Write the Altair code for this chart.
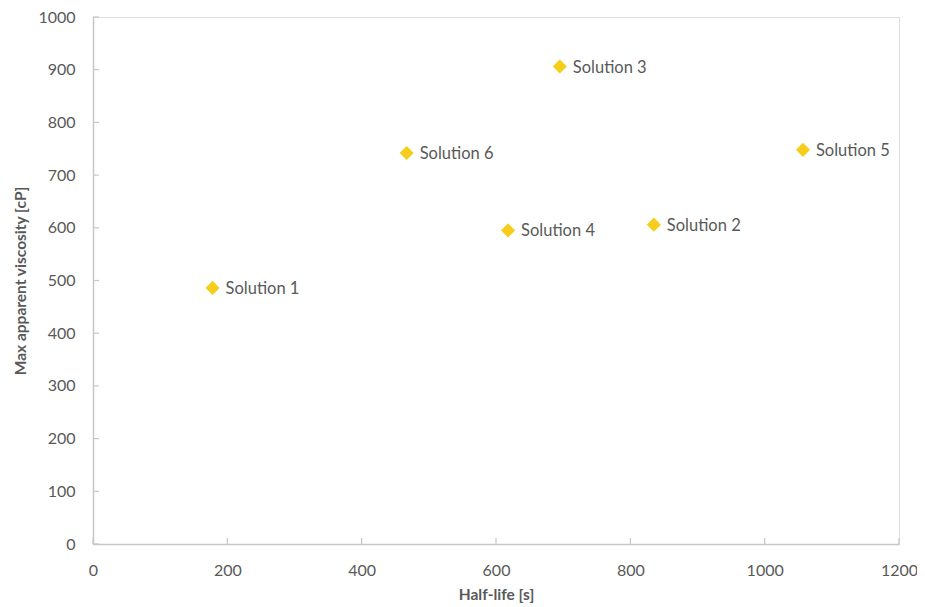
import altair as alt
import pandas as pd

names = ["Solution 1", "Solution 2", "Solution 3", "Solution 4", "Solution 5", "Solution 6"]
half_life = [178, 835, 695, 618, 1057, 467]
viscosity = [486, 606, 906, 595, 748, 742]

x_ticks = [0, 200, 400, 600, 800, 1000, 1200]
y_ticks = [0, 100, 200, 300, 400, 500, 600, 700, 800, 900, 1000]

df = pd.DataFrame({"name": names, "x": half_life, "y": viscosity})
dfx = pd.DataFrame({"v": x_ticks})
dfy = pd.DataFrame({"v": y_ticks})

FONT = "Lato"
TXT = "#595959"
AX = "#c6c6c6"

xscale = alt.Scale(domain=[0, 1200], nice=False, zero=True)
yscale = alt.Scale(domain=[0, 1000], nice=False, zero=True)

xaxis = alt.Axis(values=x_ticks, format="d", grid=False, ticks=False, domainColor=AX, domainWidth=1.5,
                 labelFont=FONT, labelFontSize=16, labelColor=TXT, labelPadding=18, labelFlush=False,
                 title="Half-life [s]", titleFont=FONT, titleFontSize=15.5, titleFontWeight="bold",
                 titleColor=TXT, titlePadding=9)
yaxis = alt.Axis(values=y_ticks, format="d", grid=False, ticks=False, domainColor=AX, domainWidth=1.5,
                 labelFont=FONT, labelFontSize=16, labelColor=TXT, labelPadding=18, labelFlush=False,
                 title="Max apparent viscosity [cP]", titleFont=FONT, titleFontSize=15.5,
                 titleFontWeight="bold", titleColor=TXT, titlePadding=9)

points = alt.Chart(df).mark_point(shape="diamond", filled=True, size=200, color="#F7CD1C", opacity=1).encode(
    x=alt.X("x:Q", scale=xscale, axis=xaxis),
    y=alt.Y("y:Q", scale=yscale, axis=yaxis),
)

labels = alt.Chart(df).mark_text(align="left", baseline="middle", dx=13, dy=1, font=FONT,
                                 fontSize=16.5, color=TXT).encode(
    x=alt.X("x:Q", scale=xscale),
    y=alt.Y("y:Q", scale=yscale),
    text="name:N",
)

xt = alt.Chart(dfx).mark_rule(color=AX, strokeWidth=1.2).encode(
    x=alt.X("v:Q", scale=xscale),
    y=alt.value(527), y2=alt.value(521),
)
yt = alt.Chart(dfy).mark_rule(color=AX, strokeWidth=1.2).encode(
    y=alt.Y("v:Q", scale=yscale),
    x=alt.value(0), x2=alt.value(6),
)

chart = alt.layer(xt, yt, points, labels).properties(
    width=806, height=527, autosize="none",
    padding={"left": 85, "top": 9, "right": 18, "bottom": 60},
).configure_view(stroke=None).configure(background="white")

chart.save("out.html", embed_options={"renderer": "svg", "actions": False})
